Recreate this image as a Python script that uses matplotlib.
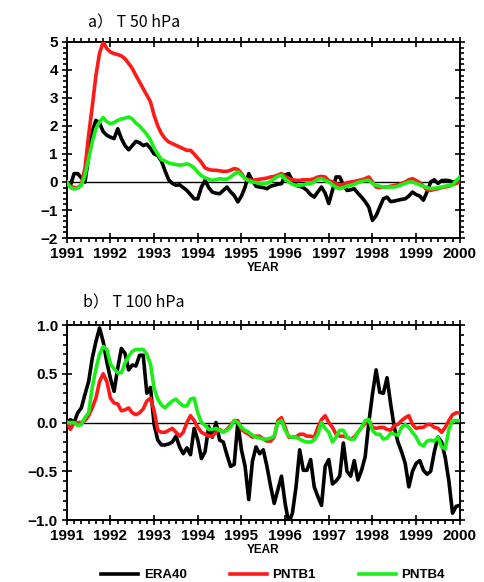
import numpy as np
import matplotlib.pyplot as plt
from matplotlib.ticker import MultipleLocator

# monthly anomalies, Jan 1991 .. Jan 2000 (109 values)
months = np.arange(109)
years = 1991 + months / 12.0

# a) T 50 hPa
t50_era40 = [0.0, -0.12, 0.3, 0.3, 0.15, 0.0, 0.9, 1.8, 2.2, 2.1,
             1.8, 1.67, 1.6, 1.55, 1.9, 1.55, 1.3, 1.15, 1.3, 1.45,
             1.4, 1.3, 1.35, 1.2, 1.0, 0.95, 0.75, 0.4, 0.08, -0.05,
             -0.12, -0.1, -0.2, -0.3, -0.45, -0.6, -0.6, -0.18, 0.06, -0.2,
             -0.36, -0.4, -0.42, -0.3, -0.18, -0.35, -0.48, -0.71, -0.5, -0.18,
             0.3, 0.05, -0.15, -0.18, -0.2, -0.24, -0.15, -0.12, -0.08, -0.06,
             0.25, 0.3, 0.05, -0.12, -0.15, -0.2, -0.3, -0.45, -0.54, -0.35,
             -0.18, -0.4, -0.77, -0.3, 0.18, 0.18, -0.1, -0.3, -0.28, -0.24,
             -0.4, -0.54, -0.7, -0.9, -1.37, -1.2, -0.9, -0.6, -0.54, -0.7,
             -0.68, -0.65, -0.62, -0.6, -0.5, -0.36, -0.45, -0.5, -0.65, -0.35,
             0.0, 0.08, -0.05, 0.05, 0.06, 0.05, 0.0, 0.02, 0.05]
t50_pntb1 = [-0.05, -0.15, -0.2, -0.2, -0.1, 0.5, 1.67, 2.7, 3.8, 4.6,
             5.0, 4.76, 4.64, 4.58, 4.55, 4.5, 4.4, 4.23, 4.05, 3.8,
             3.57, 3.33, 3.1, 2.86, 2.38, 2.0, 1.73, 1.55, 1.43, 1.37,
             1.31, 1.25, 1.19, 1.13, 1.13, 1.0, 0.85, 0.7, 0.5, 0.45,
             0.42, 0.42, 0.4, 0.38, 0.38, 0.42, 0.48, 0.45, 0.3, 0.12,
             0.08, 0.06, 0.08, 0.1, 0.12, 0.14, 0.18, 0.2, 0.25, 0.3,
             0.2, 0.12, 0.08, 0.06, 0.06, 0.08, 0.08, 0.08, 0.12, 0.18,
             0.2, 0.18, 0.05, 0.0, -0.06, -0.12, -0.08, -0.02, 0.0, 0.02,
             0.05, 0.08, 0.12, 0.18, 0.0, -0.18, -0.2, -0.18, -0.18, -0.15,
             -0.12, -0.1, -0.05, 0.0, 0.08, 0.12, 0.05, -0.02, -0.15, -0.28,
             -0.3, -0.26, -0.24, -0.2, -0.18, -0.15, -0.1, -0.05, 0.0]
t50_pntb4 = [0.0, -0.2, -0.25, -0.22, -0.12, 0.24, 0.83, 1.43, 1.9, 2.14,
             2.3, 2.15, 2.08, 2.12, 2.2, 2.25, 2.28, 2.32, 2.25, 2.1,
             2.0, 1.85, 1.7, 1.5, 1.2, 1.0, 0.8, 0.75, 0.68, 0.65,
             0.62, 0.6, 0.62, 0.65, 0.6, 0.5, 0.35, 0.22, 0.15, 0.1,
             0.06, 0.08, 0.12, 0.1, 0.1, 0.18, 0.28, 0.36, 0.25, 0.12,
             0.04, 0.0, -0.02, -0.05, -0.06, -0.05, 0.02, 0.12, 0.2, 0.24,
             0.1, 0.0, -0.08, -0.12, -0.12, -0.1, -0.06, -0.06, 0.0, 0.1,
             0.12, 0.05, 0.0, -0.1, -0.2, -0.24, -0.2, -0.15, -0.12, -0.08,
             -0.02, 0.02, 0.05, 0.06, -0.05, -0.12, -0.15, -0.18, -0.18, -0.18,
             -0.18, -0.15, -0.1, -0.05, 0.0, 0.0, -0.05, -0.1, -0.15, -0.2,
             -0.24, -0.22, -0.2, -0.18, -0.15, -0.12, -0.1, 0.05, 0.18]

# b) T 100 hPa
t100_era40 = [0.0, 0.03, 0.0, 0.1, 0.15, 0.29, 0.42, 0.66, 0.83, 0.97,
              0.83, 0.62, 0.45, 0.32, 0.56, 0.76, 0.71, 0.54, 0.59, 0.58,
              0.69, 0.69, 0.3, 0.36, -0.02, -0.18, -0.23, -0.23, -0.22, -0.2,
              -0.14, -0.25, -0.32, -0.26, -0.33, -0.06, -0.18, -0.37, -0.3, -0.04,
              -0.15, 0.0, -0.18, -0.2, -0.33, -0.45, -0.43, 0.0, -0.28, -0.45,
              -0.79, -0.4, -0.25, -0.32, -0.28, -0.45, -0.65, -0.83, -0.69, -0.55,
              -0.83, -1.03, -0.93, -0.66, -0.28, -0.49, -0.49, -0.38, -0.66, -0.76,
              -0.85, -0.45, -0.38, -0.63, -0.6, -0.55, -0.21, -0.5, -0.55, -0.39,
              -0.59, -0.49, -0.35, 0.0, 0.29, 0.54, 0.31, 0.3, 0.46, 0.19,
              -0.05, -0.2, -0.3, -0.42, -0.66, -0.5, -0.42, -0.39, -0.49, -0.53,
              -0.5, -0.3, -0.15, -0.2, -0.36, -0.6, -0.93, -0.86, -0.85]
t100_pntb1 = [0.0, -0.07, 0.0, 0.0, 0.0, 0.02, 0.07, 0.15, 0.25, 0.42,
              0.5, 0.42, 0.25, 0.2, 0.19, 0.12, 0.13, 0.15, 0.1, 0.08,
              0.1, 0.14, 0.22, 0.25, 0.12, -0.08, -0.1, -0.1, -0.08, -0.06,
              -0.1, -0.14, -0.1, 0.0, 0.07, 0.02, -0.05, -0.1, -0.12, -0.14,
              -0.14, -0.1, -0.07, -0.1, -0.07, -0.03, 0.02, 0.02, -0.07, -0.1,
              -0.12, -0.15, -0.14, -0.14, -0.17, -0.19, -0.19, -0.15, 0.02, 0.05,
              -0.05, -0.15, -0.15, -0.15, -0.12, -0.12, -0.14, -0.14, -0.15, -0.05,
              0.03, 0.07, 0.0, -0.05, -0.12, -0.14, -0.14, -0.15, -0.17, -0.15,
              -0.1, -0.05, -0.01, 0.03, -0.05, -0.06, -0.05, -0.05, -0.07, -0.08,
              -0.03, -0.02, 0.02, 0.05, 0.07, -0.02, -0.06, -0.05, -0.05, -0.02,
              -0.02, -0.05, -0.06, -0.1, -0.05, 0.02, 0.08, 0.1, 0.1]
t100_pntb4 = [0.0, 0.0, 0.0, -0.03, -0.02, 0.05, 0.1, 0.36, 0.55, 0.7,
              0.78, 0.75, 0.6, 0.55, 0.51, 0.51, 0.61, 0.68, 0.73, 0.75,
              0.75, 0.75, 0.7, 0.6, 0.35, 0.24, 0.18, 0.15, 0.19, 0.22,
              0.24, 0.2, 0.17, 0.17, 0.24, 0.25, 0.1, 0.0, -0.03, -0.07,
              -0.07, -0.06, -0.08, -0.1, -0.08, -0.05, 0.02, 0.0, -0.05, -0.08,
              -0.1, -0.13, -0.15, -0.16, -0.17, -0.17, -0.16, -0.14, 0.0, 0.02,
              -0.08, -0.14, -0.15, -0.15, -0.17, -0.19, -0.2, -0.2, -0.18, -0.12,
              0.0, -0.06, -0.1, -0.2, -0.15, -0.08, -0.08, -0.15, -0.17, -0.17,
              -0.1, -0.05, 0.02, 0.03, -0.08, -0.12, -0.12, -0.17, -0.16, -0.11,
              -0.12, -0.13, -0.05, -0.02, -0.05, -0.1, -0.15, -0.22, -0.24, -0.19,
              -0.18, -0.19, -0.15, -0.25, -0.27, -0.07, 0.02, 0.02, 0.02]

year_ticks = np.arange(1991, 2001)
labels = ['ERA40', 'PNTB1', 'PNTB4']
colors = ['black', '#ff1a1a', '#1aef1a']

plt.rcParams['font.family'] = ['Liberation Sans', 'DejaVu Sans']

fig = plt.figure(figsize=(4.84, 5.82), dpi=100)
ax1 = fig.add_axes([0.138, 0.591, 0.812, 0.337])
ax2 = fig.add_axes([0.138, 0.1065, 0.812, 0.335])


def style(ax, ylim, ymajor, yminor, yfmt):
    ax.set_xlim(1991, 2000)
    ax.set_ylim(*ylim)
    ax.axhline(0, color='black', lw=1.0, zorder=1)
    ax.set_xticks(year_ticks)
    ax.xaxis.set_minor_locator(MultipleLocator(1 / 6))
    ax.yaxis.set_major_locator(MultipleLocator(ymajor))
    ax.yaxis.set_minor_locator(MultipleLocator(yminor))
    ax.yaxis.set_major_formatter(yfmt)
    ax.tick_params(which='both', top=True, right=True, width=1.2)
    ax.tick_params(which='major', direction='inout', length=7,
                   labelsize=11, pad=3)
    ax.tick_params(which='minor', direction='out', length=3)
    for lab in ax.get_xticklabels() + ax.get_yticklabels():
        lab.set_fontweight('bold')
    for sp in ax.spines.values():
        sp.set_linewidth(1.4)
    ax.set_xlabel('YEAR', fontsize=8.5, fontweight='bold', labelpad=1)


handles = []
for data, lab, c in zip([t50_era40, t50_pntb1, t50_pntb4], labels, colors):
    ln, = ax1.plot(years, data, color=c, lw=2.6, label=lab, zorder=3)
    handles.append(ln)
for data, c in zip([t100_era40, t100_pntb1, t100_pntb4], colors):
    ax2.plot(years, data, color=c, lw=2.6, zorder=3)
# in panel a the coloured curves sit over the black one
handles[0].set_zorder(2)

style(ax1, (-2, 5), 1, 0.2, lambda v, p: '%d' % v if v >= 0 else '\u2212%d' % -v)
style(ax2, (-1, 1), 0.5, 0.1,
      lambda v, p: '%.1f' % v if v >= 0 else '\u2212%.1f' % -v)

title_font = ['Noto Sans CJK JP', 'DejaVu Sans']
ax1.text(0.054, 1.097, 'a\uff09 T 50 hPa', transform=ax1.transAxes,
         fontsize=11.5, family=title_font, va='center', ha='left')
ax2.text(0.041, 1.113, 'b\uff09 T 100 hPa', transform=ax2.transAxes,
         fontsize=11.5, family=title_font, va='center', ha='left')

fig.legend(handles=handles, loc='center left', bbox_to_anchor=(0.185, 0.012),
           ncol=3, frameon=False, handlelength=2.8,
           handletextpad=0.4, columnspacing=3.3,
           prop={'weight': 'bold', 'size': 9.5})

fig.savefig('out.png', dpi=100)
